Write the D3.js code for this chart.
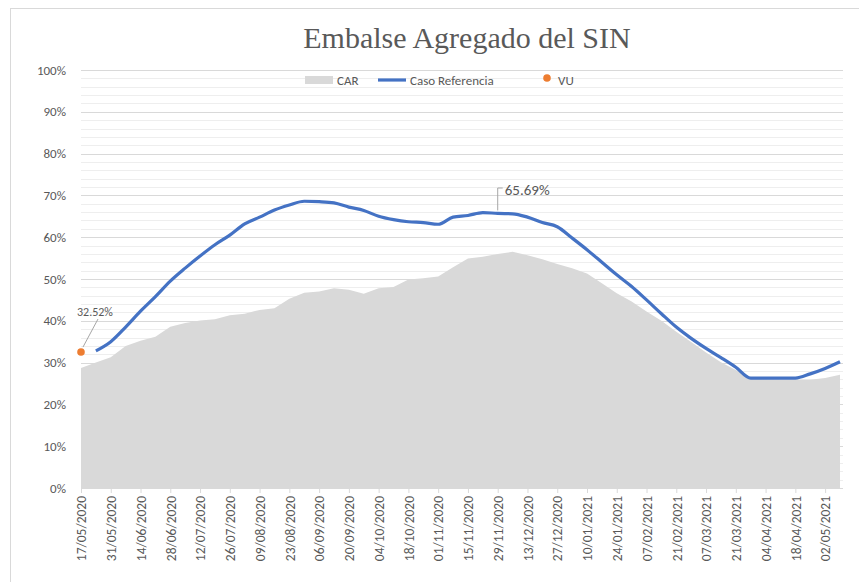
<!DOCTYPE html>
<html>
<head>
<meta charset="utf-8">
<script src="https://cdn.jsdelivr.net/npm/d3@7"></script>
<style>
  body { margin: 0; background: #fff; }
  svg { display: block; font-family: Calibri, Carlito, "Liberation Sans", sans-serif; }
</style>
</head>
<body>
<div id="chart"></div>
<script>
// weekly categories (Excel category axis)
var fechas = [
  "17/05/2020","24/05/2020","31/05/2020","07/06/2020","14/06/2020","21/06/2020",
  "28/06/2020","05/07/2020","12/07/2020","19/07/2020","26/07/2020","02/08/2020",
  "09/08/2020","16/08/2020","23/08/2020","30/08/2020","06/09/2020","13/09/2020",
  "20/09/2020","27/09/2020","04/10/2020","11/10/2020","18/10/2020","25/10/2020",
  "01/11/2020","08/11/2020","15/11/2020","22/11/2020","29/11/2020","06/12/2020",
  "13/12/2020","20/12/2020","27/12/2020","03/01/2021","10/01/2021","17/01/2021",
  "24/01/2021","31/01/2021","07/02/2021","14/02/2021","21/02/2021","28/02/2021",
  "07/03/2021","14/03/2021","21/03/2021","28/03/2021","04/04/2021","11/04/2021",
  "18/04/2021","25/04/2021","02/05/2021","09/05/2021"
];

// CAR (%), area
var car = [
  28.7, 30.0, 31.3, 34.0, 35.2, 36.2, 38.6, 39.5, 40.1, 40.4, 41.3, 41.7,
  42.6, 43.0, 45.3, 46.7, 47.0, 47.8, 47.4, 46.5, 47.8, 48.1, 49.9, 50.2,
  50.6, 52.8, 54.9, 55.3, 56.0, 56.5, 55.7, 54.7, 53.6, 52.6, 51.3, 49.0,
  46.6, 44.6, 42.2, 40.0, 37.4, 34.9, 32.4, 30.1, 28.2, 26.2, 26.0, 25.9,
  25.9, 25.9, 26.3, 27.1
];

// Caso Referencia (%), starts on second week
var casoRef = [
  null, 32.8, 35.0, 38.5, 42.3, 45.8, 49.5, 52.6, 55.5, 58.2, 60.5, 63.2,
  64.8, 66.5, 67.7, 68.6, 68.5, 68.2, 67.2, 66.4, 65.0, 64.2, 63.7, 63.5,
  63.1, 64.8, 65.2, 65.9, 65.69, 65.6, 64.8, 63.5, 62.5, 59.8, 57.0, 54.0,
  51.0, 48.2, 45.0, 41.7, 38.5, 35.8, 33.4, 31.2, 28.9, 26.3, 26.3, 26.3,
  26.3, 27.3, 28.6, 30.2
];

// VU single point
var vuFecha = "17/05/2020";
var vuValor = 32.52;

var yTicks = [0, 10, 20, 30, 40, 50, 60, 70, 80, 90, 100];

var svgWidth = 859;
var svgHeight = 582;
var margin = { top: 70, right: 16, bottom: 94, left: 81 };
var plotRight = 843;

var svg = d3.select("#chart")
  .append("svg")
  .attr("width", svgWidth)
  .attr("height", svgHeight);

// chart frame
svg.append("rect")
  .attr("x", 10.5).attr("y", 8.5)
  .attr("width", 900).attr("height", 700)
  .attr("fill", "#fff")
  .attr("stroke", "#d9d9d9");

var x = d3.scalePoint()
  .domain(fechas)
  .range([margin.left, plotRight - 3]);

var y = d3.scaleLinear()
  .domain([0, 100])
  .range([svgHeight - margin.bottom, margin.top]);

// gridlines: minor every 2%, major every 10%
var minor = d3.range(2, 100, 2).filter(function(v) { return v % 10 !== 0; });
svg.append("g").selectAll("line").data(minor).enter().append("line")
  .attr("x1", margin.left).attr("x2", plotRight)
  .attr("y1", function(d) { return Math.round(y(d)) + 0.5; })
  .attr("y2", function(d) { return Math.round(y(d)) + 0.5; })
  .attr("stroke", "#eeeeee").attr("stroke-width", 1);

svg.append("g").selectAll("line").data(yTicks.slice(1)).enter().append("line")
  .attr("x1", margin.left).attr("x2", plotRight)
  .attr("y1", function(d) { return Math.round(y(d)) + 0.5; })
  .attr("y2", function(d) { return Math.round(y(d)) + 0.5; })
  .attr("stroke", "#d9d9d9").attr("stroke-width", 1);

// y labels
svg.append("g").selectAll("text").data(yTicks).enter().append("text")
  .attr("x", 66)
  .attr("y", function(d) { return y(d) + 4.5; })
  .attr("text-anchor", "end")
  .attr("font-size", 13)
  .attr("fill", "#595959")
  .text(function(d) { return d + "%"; });

// CAR area
var area = d3.area()
  .x(function(d, i) { return x(fechas[i]); })
  .y0(y(0))
  .y1(function(d) { return y(d); });

svg.append("path")
  .datum(car)
  .attr("d", area)
  .attr("fill", "#d9d9d9");

// x axis
var xAxis = d3.axisBottom(x)
  .tickValues(fechas.filter(function(d, i) { return i % 2 === 0; }))
  .tickSize(5)
  .tickSizeOuter(0);

var gx = svg.append("g")
  .attr("transform", "translate(0," + y(0) + ")")
  .call(xAxis);

gx.select(".domain").attr("stroke", "#d9d9d9").attr("d", "M" + margin.left + ",0.5H" + plotRight);
gx.selectAll(".tick line").attr("stroke", "#d9d9d9");
gx.selectAll(".tick text")
  .attr("font-family", "Calibri, Carlito, 'Liberation Sans', sans-serif")
  .attr("font-size", 13.5)
  .attr("fill", "#595959")
  .attr("text-anchor", "end")
  .attr("transform", "rotate(-90)")
  .attr("x", -8)
  .attr("y", 0)
  .attr("dy", "0.35em");

// Caso Referencia line
var line = d3.line()
  .defined(function(d) { return d !== null; })
  .x(function(d, i) { return x(fechas[i]); })
  .y(function(d) { return y(d); })
  .curve(d3.curveMonotoneX);

svg.append("path")
  .datum(casoRef)
  .attr("d", line)
  .attr("fill", "none")
  .attr("stroke", "#4472c4")
  .attr("stroke-width", 3.2)
  .attr("stroke-linejoin", "round");

// VU point
svg.append("circle")
  .attr("cx", x(vuFecha))
  .attr("cy", y(vuValor))
  .attr("r", 3.8)
  .attr("fill", "#ed7d31");

// data labels
svg.append("line")
  .attr("x1", x(vuFecha) + 2).attr("y1", y(vuValor) - 5)
  .attr("x2", 98).attr("y2", 319)
  .attr("stroke", "#a6a6a6");
svg.append("text")
  .attr("x", 77).attr("y", 316)
  .attr("font-size", 12)
  .attr("fill", "#595959")
  .text(vuValor.toFixed(2) + "%");

var peakIdx = 28;
var px = x(fechas[peakIdx]);
svg.append("path")
  .attr("d", "M" + px + "," + (y(casoRef[peakIdx]) - 3) + "V" + 188 + "H" + (px + 5))
  .attr("fill", "none")
  .attr("stroke", "#a6a6a6");
svg.append("text")
  .attr("x", px + 7).attr("y", 195)
  .attr("font-size", 15)
  .attr("fill", "#595959")
  .text(casoRef[peakIdx].toFixed(2) + "%");

// title
svg.append("text")
  .attr("x", 467).attr("y", 48)
  .attr("text-anchor", "middle")
  .attr("font-family", "'Liberation Serif', 'DejaVu Serif', serif")
  .attr("font-size", 30)
  .attr("fill", "#595959")
  .text("Embalse Agregado del SIN");

// legend
var lg = svg.append("g").attr("font-size", 13).attr("fill", "#595959");
lg.append("rect").attr("x", 305).attr("y", 76).attr("width", 28).attr("height", 8).attr("fill", "#d9d9d9");
lg.append("text").attr("x", 337).attr("y", 84.5).text("CAR");
lg.append("line").attr("x1", 378).attr("x2", 406).attr("y1", 80).attr("y2", 80)
  .attr("stroke", "#4472c4").attr("stroke-width", 3.2);
lg.append("text").attr("x", 410).attr("y", 84.5).text("Caso Referencia");
lg.append("circle").attr("cx", 547).attr("cy", 78).attr("r", 3.8).attr("fill", "#ed7d31");
lg.append("text").attr("x", 558).attr("y", 84.5).text("VU");
</script>
</body>
</html>
